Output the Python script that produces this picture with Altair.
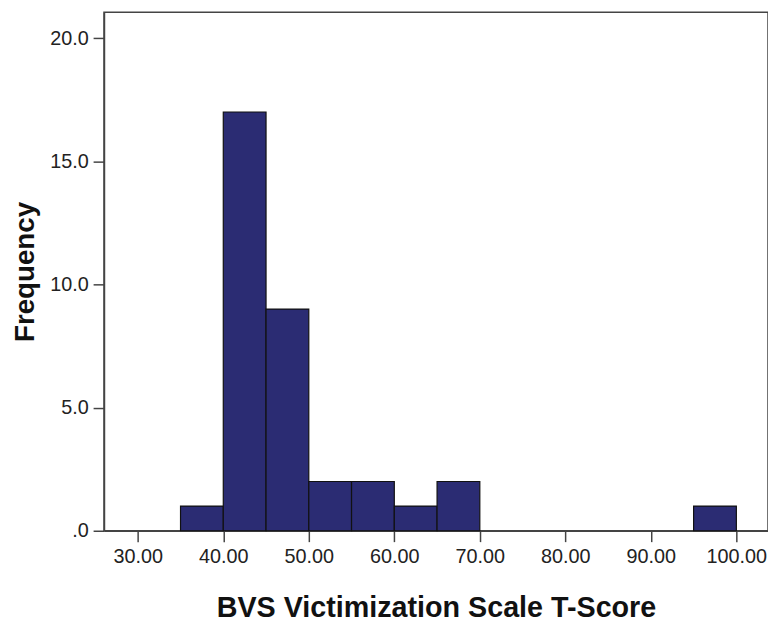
import altair as alt
import pandas as pd

bin_start = [35, 40, 45, 50, 55, 60, 65, 95]
bin_end = [40, 45, 50, 55, 60, 65, 70, 100]
counts = [1, 17, 9, 2, 2, 1, 2, 1]
x_ticks = [30, 40, 50, 60, 70, 80, 90, 100]
y_ticks = [0, 5, 10, 15, 20]

df = pd.DataFrame({"start": bin_start, "end": bin_end, "count": counts})

font = "Liberation Sans"

chart = alt.Chart(df).mark_rect(
    color="#2B2C73", stroke="#111111", strokeWidth=1.2
).encode(
    x=alt.X("start:Q",
            scale=alt.Scale(domain=[26.05, 103.7], nice=False, zero=False),
            axis=alt.Axis(values=x_ticks, format=".2f", title="BVS Victimization Scale T-Score",
                          grid=False, tickSize=11, labelPadding=5, titlePadding=28,
                          labelFontSize=20, titleFontSize=29, titleFontWeight="bold")),
    x2="end:Q",
    y=alt.Y("count:Q",
            scale=alt.Scale(domain=[0, 21.05], nice=False),
            axis=alt.Axis(values=y_ticks, title="Frequency",
                          labelExpr="datum.value == 0 ? '.0' : format(datum.value, '.1f')",
                          grid=False, tickSize=11, labelPadding=5, titlePadding=10,
                          labelFontSize=20, titleFontSize=28, titleFontWeight="bold")),
    y2=alt.Y2(datum=0),
).properties(
    width=671, height=524,
    autosize=alt.AutoSizeParams(type="none"),
    padding={"left": 97, "top": 1, "right": 0, "bottom": 94},
).configure_axis(
    labelFont=font, titleFont=font, labelColor="#222222", titleColor="#111111",
    domainColor="#444444", domainWidth=1.5, tickColor="#444444", tickWidth=1.5,
).configure_view(
    stroke="#444444", strokeWidth=1.5
)

chart.save("out.html", embed_options={"renderer": "svg", "actions": False})
